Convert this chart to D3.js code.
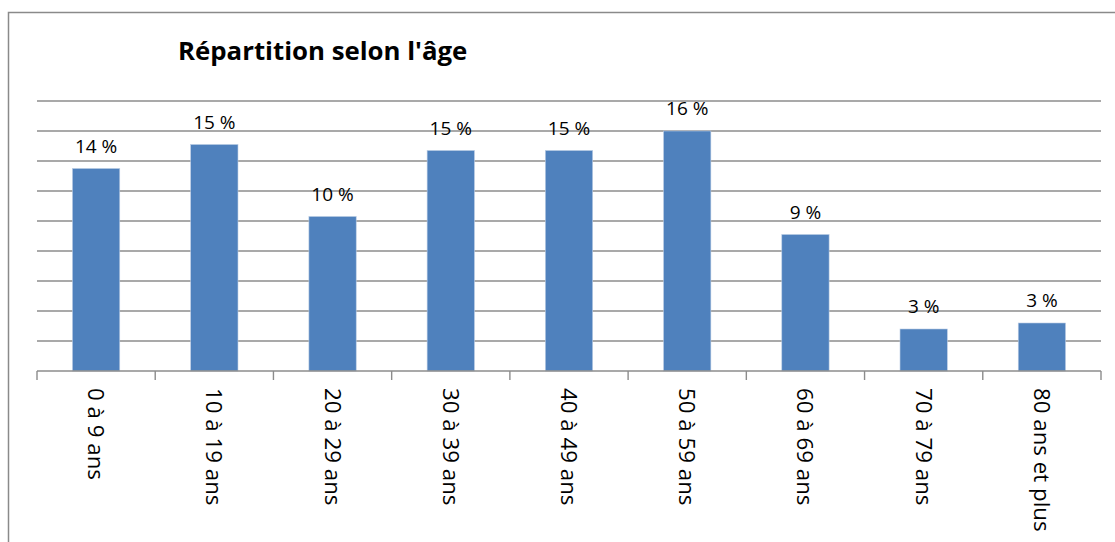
<!DOCTYPE html>
<html lang="fr">

<head>
    <meta charset="UTF-8">
    <title>Répartition selon l'âge</title>
    <script src="https://d3js.org/d3.v7.min.js"></script>
    <style>
        body {
            margin: 0;
            background: #fff;
            font-family: "Open Sans", sans-serif;
        }
    </style>
</head>

<body>
    <svg width="1115" height="542"></svg>

    <script>
        // Données
        const categories = ["0 à 9 ans", "10 à 19 ans", "20 à 29 ans", "30 à 39 ans", "40 à 49 ans",
            "50 à 59 ans", "60 à 69 ans", "70 à 79 ans", "80 ans et plus"];
        const values = [13.5, 15.1, 10.3, 14.7, 14.7, 16.0, 9.1, 2.8, 3.2];
        const gridTicks = [2, 4, 6, 8, 10, 12, 14, 16, 18];

        const data = categories.map((c, i) => ({ cat: c, val: values[i] }));

        const svg = d3.select("svg");
        const plotLeft = 37, plotRight = 1101, plotTop = 101, plotBottom = 371;

        // cadre du graphique
        svg.append("rect")
            .attr("x", 8.5).attr("y", 12.5)
            .attr("width", 1200).attr("height", 700)
            .attr("fill", "none")
            .attr("stroke", "#8a8a8a")
            .attr("stroke-width", 1.5);

        svg.append("text")
            .attr("x", 178).attr("y", 60)
            .attr("font-family", "Open Sans")
            .attr("font-weight", "bold")
            .attr("font-size", "25.8px")
            .attr("fill", "#000")
            .text("Répartition selon l'âge");

        const x = d3.scaleBand()
            .domain(categories)
            .range([plotLeft, plotRight])
            .paddingInner(0.6)
            .paddingOuter(0.3);

        const y = d3.scaleLinear()
            .domain([0, 18])
            .range([plotBottom, plotTop]);

        // lignes de quadrillage
        svg.append("g")
            .selectAll("line")
            .data(gridTicks)
            .enter().append("line")
            .attr("x1", plotLeft).attr("x2", plotRight)
            .attr("y1", d => y(d)).attr("y2", d => y(d))
            .attr("stroke", "#8c8c8c")
            .attr("stroke-width", 1.6);

        // barres
        svg.append("g")
            .selectAll("rect")
            .data(data)
            .enter().append("rect")
            .attr("x", d => x(d.cat))
            .attr("y", d => y(d.val))
            .attr("width", x.bandwidth())
            .attr("height", d => y(0) - y(d.val))
            .attr("fill", "#4f81bd")
            .attr("stroke", "#b9cbe3")
            .attr("stroke-width", 0.6);

        // axe horizontal et graduations aux limites des catégories
        const edges = d3.range(categories.length + 1).map(i => plotLeft + i * x.step());
        const axis = svg.append("g");
        axis.append("line")
            .attr("x1", plotLeft).attr("x2", plotRight)
            .attr("y1", y(0)).attr("y2", y(0))
            .attr("stroke", "#8c8c8c")
            .attr("stroke-width", 1.6);
        axis.selectAll(".tick")
            .data(edges)
            .enter().append("line")
            .attr("class", "tick")
            .attr("x1", d => d).attr("x2", d => d)
            .attr("y1", y(0)).attr("y2", y(0) + 9)
            .attr("stroke", "#8c8c8c")
            .attr("stroke-width", 1.4);

        // étiquettes verticales
        axis.selectAll(".cat-label")
            .data(categories)
            .enter().append("text")
            .attr("class", "cat-label")
            .attr("transform", d => `translate(${x(d) + x.bandwidth() / 2},${y(0) + 17}) rotate(90)`)
            .attr("dy", "0.36em")
            .attr("text-anchor", "start")
            .attr("font-size", "22.3px")
            .attr("fill", "#000")
            .text(d => d);

        // valeurs au-dessus des barres
        svg.append("g")
            .selectAll("text")
            .data(data)
            .enter().append("text")
            .attr("x", d => x(d.cat) + x.bandwidth() / 2)
            .attr("y", d => y(d.val) - 16)
            .attr("text-anchor", "middle")
            .attr("font-size", "19px")
            .attr("fill", "#000")
            .text(d => Math.round(d.val) + " %");
    </script>
</body>

</html>
